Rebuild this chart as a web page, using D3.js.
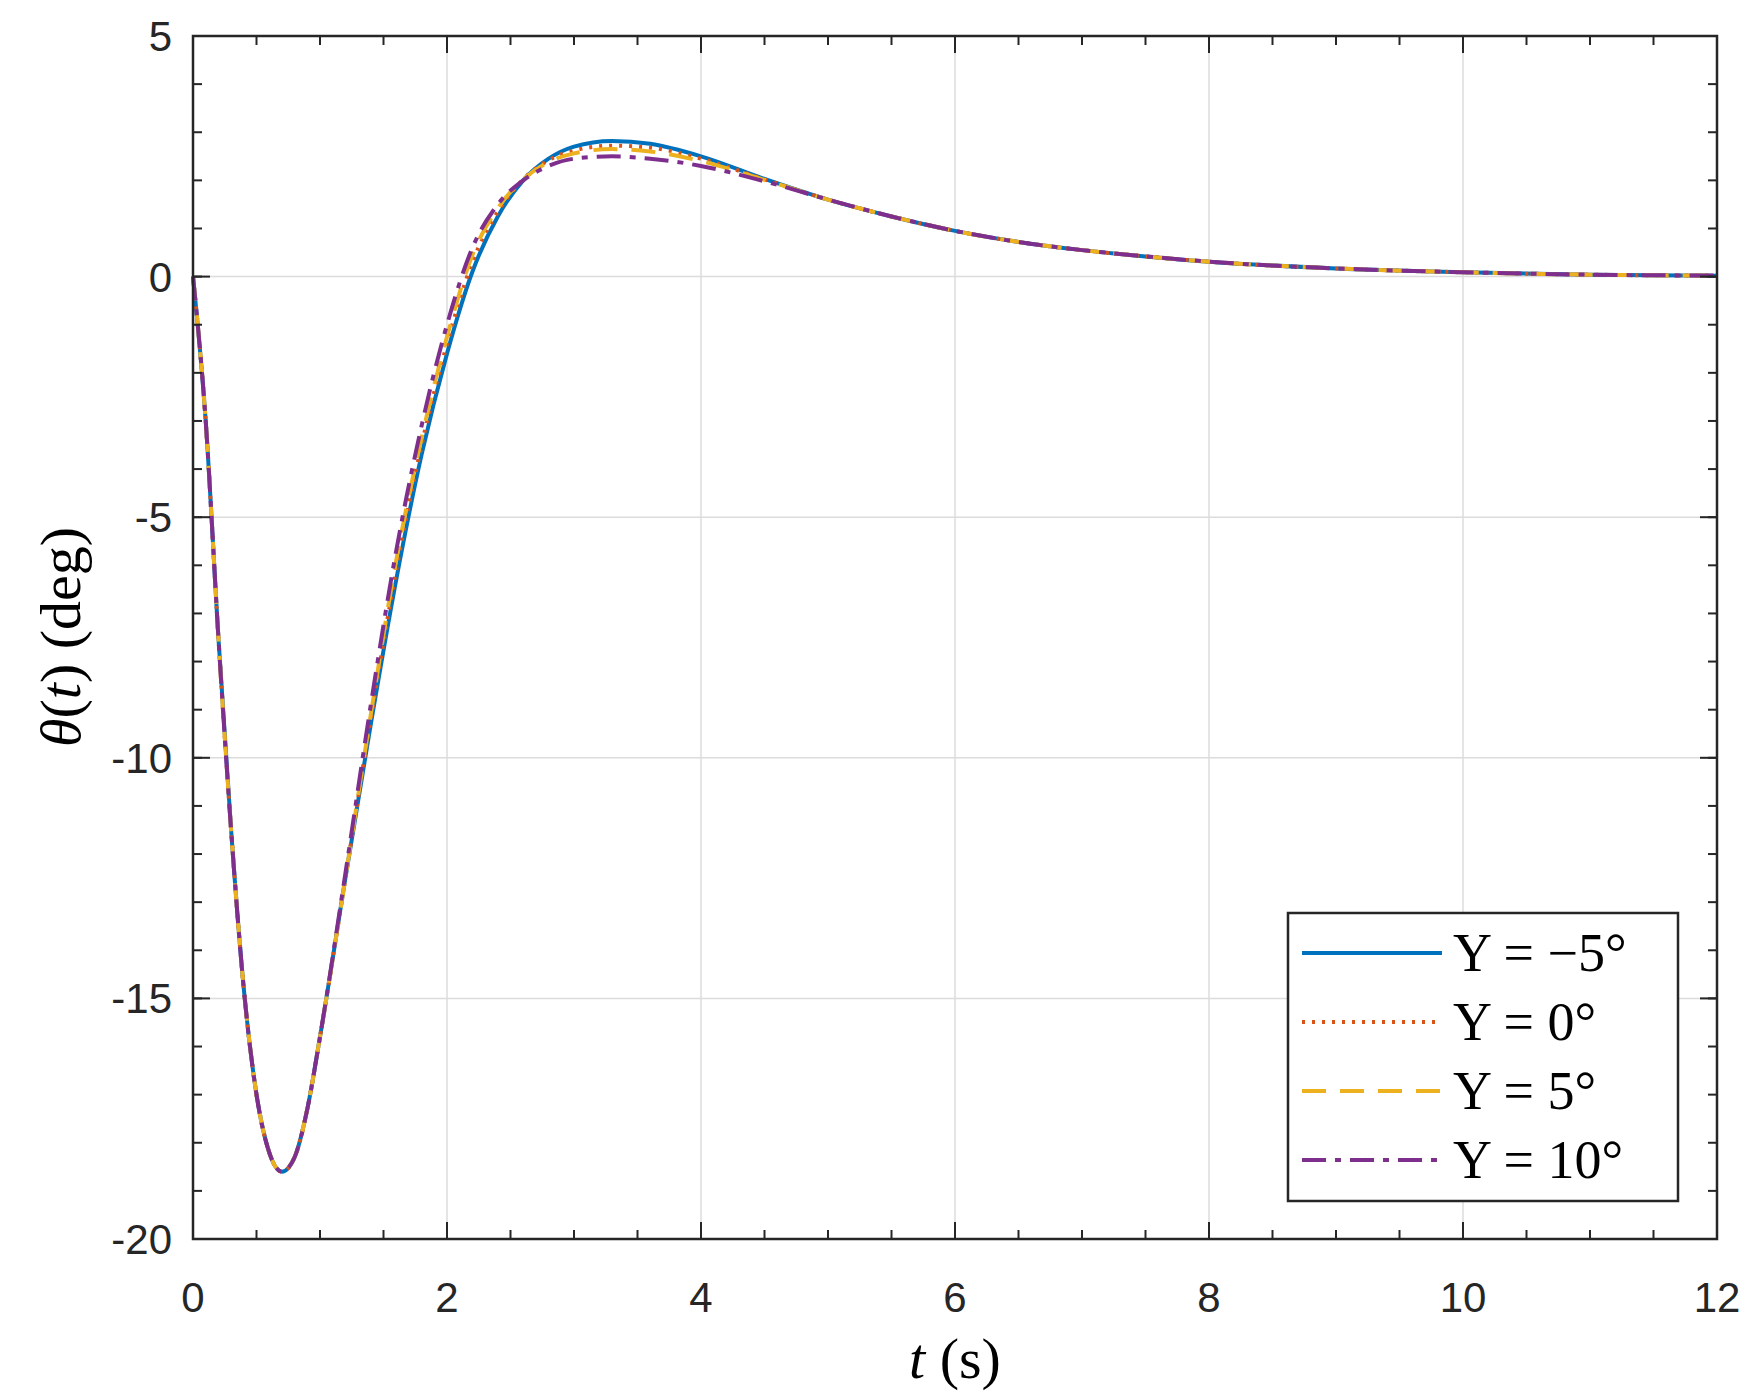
<!DOCTYPE html><html><head><meta charset="utf-8"><script src="https://cdn.jsdelivr.net/npm/d3@7"></script>
<style>body{margin:0;background:#fff}</style></head><body><svg id="c" width="1755" height="1398"></svg><script>
const tTimes=[0,0.1,0.2,0.3,0.4,0.5,0.6,0.7,0.8,0.9,1.0,1.2,1.4,1.6,1.8,2.0,2.2,2.4,2.6,2.8,3.0,3.3,3.6,4.0,4.5,5,5.5,6,6.5,7,7.5,8,9,10,11,12];
const thetaM5=[0,-3,-7.5,-11.5,-14.8,-17,-18.2,-18.6,-18.3,-17.3,-15.8,-12.5,-9.3,-6.3,-3.7,-1.6,0.1,1.25,2.0,2.45,2.7,2.82,2.76,2.5,2.03,1.6,1.25,0.95,0.72,0.55,0.42,0.31,0.17,0.09,0.04,0.02];
const theta0=[0,-3,-7.5,-11.5,-14.8,-17,-18.2,-18.6,-18.3,-17.3,-15.8,-12.5,-9.2,-6.1,-3.5,-1.4,0.3,1.35,2.02,2.42,2.62,2.72,2.68,2.45,2.02,1.6,1.25,0.95,0.72,0.55,0.42,0.31,0.17,0.09,0.04,0.02];
const theta5=[0,-3,-7.5,-11.5,-14.8,-17,-18.2,-18.6,-18.3,-17.3,-15.8,-12.5,-9.1,-5.9,-3.35,-1.25,0.45,1.42,2.02,2.38,2.56,2.65,2.6,2.4,2.01,1.6,1.25,0.95,0.72,0.55,0.42,0.31,0.17,0.09,0.04,0.02];
const theta10=[0,-3,-7.5,-11.5,-14.8,-17,-18.2,-18.6,-18.3,-17.3,-15.8,-12.4,-8.9,-5.7,-3.1,-1.0,0.6,1.5,2.0,2.3,2.45,2.5,2.45,2.3,1.98,1.6,1.25,0.95,0.72,0.55,0.42,0.31,0.17,0.09,0.04,0.02];
const seriesNames=["Υ = −5°","Υ = 0°","Υ = 5°","Υ = 10°"];
const xTicks=[0,2,4,6,8,10,12], yTicks=[-20,-15,-10,-5,0,5];
const series=[
 {v:thetaM5,c:"#0072BD",d:null},
 {v:theta0,c:"#D95319",d:"3,7"},
 {v:theta5,c:"#EDB120",d:"24,14"},
 {v:theta10,c:"#7E2F8E",d:"24,9,6,9"}];
const svg=d3.select("#c");
const L=193,R=1717,T=36,B=1239;
const x=d3.scaleLinear().domain([0,12]).range([L,R]);
const y=d3.scaleLinear().domain([-20,5]).range([B,T]);
const ax="#262626";
svg.append("g").selectAll("line").data(xTicks.slice(1,-1)).join("line").attr("x1",d=>x(d)).attr("x2",d=>x(d)).attr("y1",T).attr("y2",B).attr("stroke","#dcdcdc").attr("stroke-width",1.5);
svg.append("g").selectAll("line").data(yTicks.slice(1,-1)).join("line").attr("y1",d=>y(d)).attr("y2",d=>y(d)).attr("x1",L).attr("x2",R).attr("stroke","#dcdcdc").attr("stroke-width",1.5);
const line=d3.line().x((d,i)=>x(tTimes[i])).y(d=>y(d)).curve(d3.curveMonotoneX);
series.forEach(s=>svg.append("path").attr("d",line(s.v)).attr("fill","none").attr("stroke",s.c).attr("stroke-width",4).attr("stroke-dasharray",s.d));
const xMinor=d3.range(0,12.01,0.5), yMinor=d3.range(-20,5.01,1);
function ticks(g,vals,isX,len,side){
 g.selectAll(null).data(vals).join("line").each(function(d){
  const e=d3.select(this);
  if(isX){const px=x(d);const y0=side?T:B;e.attr("x1",px).attr("x2",px).attr("y1",y0).attr("y2",side?y0+len:y0-len);}
  else{const py=y(d);const x0=side?R:L;e.attr("y1",py).attr("y2",py).attr("x1",x0).attr("x2",side?x0-len:x0+len);}
 }).attr("stroke",ax).attr("stroke-width",2);
}
const tg=svg.append("g");
[0,1].forEach(s=>{ticks(tg,xMinor,true,9,s);ticks(tg,xTicks,true,17,s);ticks(tg,yMinor,false,9,s);ticks(tg,yTicks,false,17,s);});
svg.append("rect").attr("x",L).attr("y",T).attr("width",R-L).attr("height",B-T).attr("fill","none").attr("stroke",ax).attr("stroke-width",2.5);
svg.append("g").selectAll("text").data(xTicks).join("text").attr("x",d=>x(d)).attr("y",1312).attr("text-anchor","middle").attr("font-family","Liberation Sans, Arial").attr("font-size",42).attr("fill",ax).text(d=>d);
svg.append("g").selectAll("text").data(yTicks).join("text").attr("x",172).attr("y",d=>y(d)+15).attr("text-anchor","end").attr("font-family","Liberation Sans, Arial").attr("font-size",42).attr("fill",ax).text(d=>d);
const xt=svg.append("text").attr("x",955).attr("y",1378).attr("text-anchor","middle").attr("font-family","Liberation Serif, DejaVu Serif, serif").attr("font-size",58).attr("fill","#000");
xt.append("tspan").attr("font-style","italic").text("t");xt.append("tspan").text("  (s)");
const yt=svg.append("text").attr("transform","translate(80,637) rotate(-90)").attr("text-anchor","middle").attr("font-family","Liberation Serif, DejaVu Serif, serif").attr("font-size",58).attr("fill","#000");
yt.append("tspan").attr("font-style","italic").text("θ");yt.append("tspan").text("(");yt.append("tspan").attr("font-style","italic").text("t");yt.append("tspan").text(")  (deg)");
svg.append("rect").attr("x",1288).attr("y",913).attr("width",390).attr("height",288).attr("fill","#fff").attr("stroke",ax).attr("stroke-width",2.5);
series.forEach((s,i)=>{const yy=953+i*69;
 svg.append("line").attr("x1",1302).attr("x2",1442).attr("y1",yy).attr("y2",yy).attr("stroke",s.c).attr("stroke-width",4).attr("stroke-dasharray",s.d);
 svg.append("text").attr("x",1453).attr("y",yy+18).attr("font-family","Liberation Serif, DejaVu Serif, serif").attr("font-size",54).attr("fill","#000").text(seriesNames[i]);
});
</script></body></html>
